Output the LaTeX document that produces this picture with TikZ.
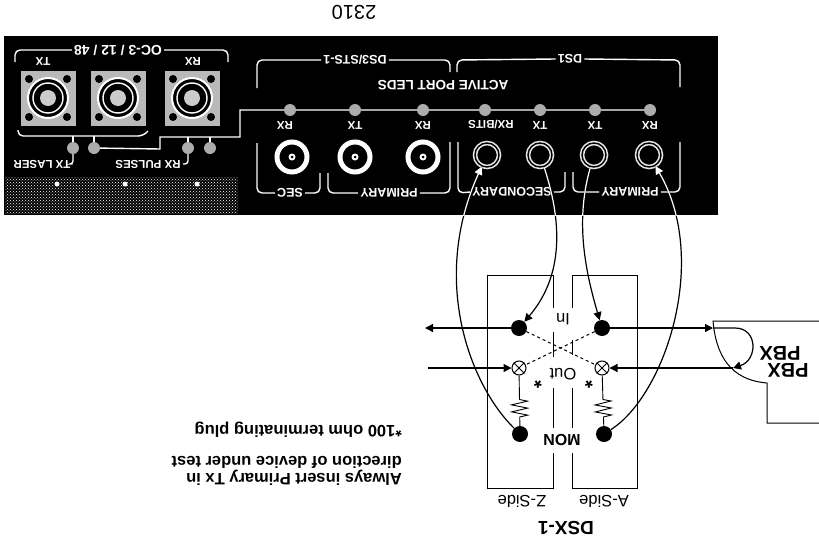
\documentclass[tikz,border=0pt]{standalone}
\usepackage{fontspec}
\setmainfont{Liberation Sans}
\usetikzlibrary{arrows.meta,calc,patterns,decorations.pathmorphing}
\tikzset{
  panelline/.style={draw=white,line width=1.4pt},
  panelbold/.style={rotate=180,text=white,font=\fontsize{12.5}{13}\selectfont\bfseries,inner sep=2pt},
  paneltext/.style={rotate=180,text=white,font=\fontsize{11.5}{12}\selectfont\bfseries,inner sep=1pt},
  ledlamp/.style={circle,minimum size=12pt,inner sep=0pt,fill=gray!65},
  bncport/.style={circle,draw=white,line width=5pt,fill=black,minimum size=30pt,inner sep=0pt},
  jackport/.style={circle,double=black,draw=white!90!black,double distance=1.4pt,line width=1.6pt,fill=black,minimum size=24pt,inner sep=0pt},
  opticport/.style={minimum size=55pt,inner sep=0pt,fill=gray!55},
  jackdot/.style={circle,fill=black,minimum size=16pt,inner sep=0pt},
  lampnode/.style={circle,draw,line width=1pt,fill=white,minimum size=14pt,inner sep=0pt},
  labeltext/.style={rotate=180,font=\fontsize{16.5}{17}\selectfont,inner sep=0pt},
  sidetext/.style={rotate=180,font=\fontsize{16.5}{17}\selectfont\bfseries,anchor=base west,inner sep=0pt},
  zigzagline/.style={line width=0.9pt,decorate,decoration={zigzag,segment length=7pt,amplitude=8pt,pre length=24pt,post length=8pt}},
  wire/.style={line width=1.2pt},
  tip/.style={-{Triangle[length=8pt,width=8pt]}}
}
\newcommand{\testcords}[1]{%
  \draw[wire,tip,#1] (zmon) .. controls (470,385) and (430,280) .. (j1);
  \draw[wire,tip,#1] (j2) .. controls (565,230) and (560,280) .. (zin);
  \draw[wire,tip,#1] (j3) .. controls (575,220) and (585,270) .. (ain);
  \draw[wire,tip,#1] (amon) .. controls (665,395) and (710,260) .. (j4);
}
\begin{document}
\begin{tikzpicture}[x=1pt,y=-1pt]
  \useasboundingbox (0,0) rectangle (819,541);
  % rear panel
  \fill[black] (4,36) rectangle (718,215);
  \fill[pattern=crosshatch dots,pattern color=white] (5,177) rectangle (238,213);
  \fill[white] (57,184) circle (2.5) (125,184) circle (2.5) (197,184) circle (2.5);
  \node[font=\fontsize{20}{20}\selectfont,rotate=180,inner sep=0pt] (unit) at (354,12) {2310};
  % optical ports
  \node[opticport] (otx) at (48,98) {};
  \node[opticport] (omid) at (118,98) {};
  \node[opticport] (orx) at (192,98) {};
  \draw[white,line width=2pt,fill=black] (48,98) circle (20) (118,98) circle (20) (192,98) circle (20);
  \draw[white,line width=1.4pt] (48,98) circle (15) (118,98) circle (15) (192,98) circle (15);
  \fill[white!80!black] (48,98) circle (8) (118,98) circle (8) (192,98) circle (8);
  \fill[black] (29,79) circle (4) (67,79) circle (4) (29,117) circle (4) (67,117) circle (4);
  \fill[black] (99,79) circle (4) (137,79) circle (4) (99,117) circle (4) (137,117) circle (4);
  \fill[black] (173,79) circle (4) (211,79) circle (4) (173,117) circle (4) (211,117) circle (4);
  \node[panelbold,font=\fontsize{14}{14}\selectfont\bfseries] (ocl) at (118,50) {OC-3 / 12 / 48};
  \node[paneltext] (otxl) at (43,61) {TX};
  \node[paneltext] (orxl) at (193,61) {RX};
  \draw[panelline,rounded corners=5pt] (15,62) -- (15,50) -- (ocl.east);
  \draw[panelline,rounded corners=5pt] (ocl.west) -- (228,50) -- (228,62);
  \draw[panelline,rounded corners=5pt] (18,130) -- (18,136) -- (143,136) -- (148,131);
  % LEDs by the optical ports
  \node[ledlamp] (txled) at (73,148) {};
  \node[ledlamp] (oled) at (94,148) {};
  \node[ledlamp] (pled) at (188,148) {};
  \node[ledlamp] (qled) at (210,148) {};
  \draw[panelline] (txled) -- (73,136);
  \draw[panelline] (oled) -- (94,136);
  \draw[panelline] (pled) -- (188,137);
  \draw[panelline] (qled) -- (210,137);
  \node[panelbold,font=\fontsize{11.5}{12}\selectfont\bfseries] (txlaser) at (42,164) {TX LASER};
  \node[panelbold,font=\fontsize{11.5}{12}\selectfont\bfseries] (rxpulses) at (148,164) {RX PULSES};
  \draw[panelline,rounded corners=3pt] (txled.south) -- (73,164) -- (txlaser.west);
  \draw[panelline,rounded corners=3pt] (pled.south) -- (188,164) -- (rxpulses.west);
  % LED strip
  \node[ledlamp] (l1) at (290,110) {};
  \node[ledlamp] (l2) at (355,110) {};
  \node[ledlamp] (l3) at (423,110) {};
  \node[ledlamp] (l4) at (485,110) {};
  \node[ledlamp] (l5) at (540,110) {};
  \node[ledlamp] (l6) at (595,110) {};
  \node[ledlamp] (l7) at (650,110) {};
  \draw[panelline] (oled) -- (160,149) -- (160,137) -- (240,137) -- (240,110) -- (l1) -- (l2) -- (l3) -- (l4) -- (l5) -- (l6) -- (l7);
  \node[paneltext] (t1) at (285,125) {RX};
  \node[paneltext] (t2) at (355,125) {TX};
  \node[paneltext] (t3) at (423,125) {RX};
  \node[paneltext] (t4) at (491,125) {RX/BITS};
  \node[paneltext] (t5) at (540,125) {TX};
  \node[paneltext] (t6) at (595,125) {TX};
  \node[paneltext] (t7) at (650,125) {RX};
  % connectors
  \node[bncport] (b1) at (292,157) {};
  \node[bncport] (b2) at (355,157) {};
  \node[bncport] (b3) at (423,157) {};
  \fill[white] (292,157) circle (3.5) (355,157) circle (3.5) (423,157) circle (3.5);
  \fill[black] (292,157) circle (1.5) (355,157) circle (1.5) (423,157) circle (1.5);
  \node[jackport] (j1) at (487,155) {};
  \node[jackport] (j2) at (540,155) {};
  \node[jackport] (j3) at (594,155) {};
  \node[jackport] (j4) at (649,155) {};
  % brackets
  \node[panelbold] (secl) at (290,193) {SEC};
  \node[panelbold] (pril) at (389,193) {PRIMARY};
  \node[panelbold] (secy) at (512,192) {SECONDARY};
  \node[panelbold] (prir) at (630,192) {PRIMARY};
  \node[panelbold,font=\fontsize{13.5}{14}\selectfont\bfseries] (act) at (443,85) {ACTIVE PORT LEDS};
  \node[panelbold] (ds3) at (355,60) {DS3/STS-1};
  \node[panelbold] (ds1) at (570,59) {DS1};
  \draw[panelline,rounded corners=5pt] (257,143) -- (257,193) -- (secl.east);
  \draw[panelline,rounded corners=5pt] (secl.west) -- (320,193) -- (320,173);
  \draw[panelline,rounded corners=5pt] (328,173) -- (328,193) -- (pril.east);
  \draw[panelline,rounded corners=5pt] (pril.west) -- (450,193) -- (450,142);
  \draw[panelline,rounded corners=5pt] (458,142) -- (458,193) -- (secy.east);
  \draw[panelline,rounded corners=5pt] (secy.west) -- (565,192) -- (565,172);
  \draw[panelline,rounded corners=5pt] (573,172) -- (573,192) -- (prir.east);
  \draw[panelline,rounded corners=5pt] (prir.west) -- (680,192) -- (680,142);
  \draw[panelline,rounded corners=5pt] (257,88) -- (257,60) -- (ds3.east);
  \draw[panelline,rounded corners=5pt] (ds3.west) -- (450,60) -- (450,72);
  \draw[panelline,rounded corners=5pt] (457,72) -- (457,60) -- (ds1.east);
  \draw[panelline,rounded corners=5pt] (ds1.west) -- (680,60) -- (680,87);
  % DSX-1 panel
  \draw[line width=1pt] (553,308) -- (553,275) -- (487,275) -- (487,488) -- (553,488) -- (553,453);
  \draw[line width=1pt] (553,332) -- (553,357) (553,388) -- (553,428);
  \draw[line width=1pt] (572,308) -- (572,275) -- (637,275) -- (637,488) -- (572,488) -- (572,453);
  \draw[line width=1pt] (572,340) -- (572,355) (572,388) -- (572,428);
  \node[jackdot] (zin) at (519,328) {};
  \node[jackdot] (ain) at (602,328) {};
  \node[jackdot] (zmon) at (520,434) {};
  \node[jackdot] (amon) at (604,434) {};
  \node[lampnode] (zout) at (519,368) {};
  \node[lampnode] (aout) at (602,368) {};
  \draw[line width=1pt] (zout.north west) -- (zout.south east) (zout.north east) -- (zout.south west);
  \draw[line width=1pt] (aout.north west) -- (aout.south east) (aout.north east) -- (aout.south west);
  \draw[dashed,line width=1pt] (zin) -- (aout);
  \draw[dashed,line width=1pt] (ain) -- (zout);
  \draw[zigzagline] (zout) -- (zmon);
  \draw[zigzagline] (aout) -- (amon);
  \node[labeltext] (inl) at (563,319) {In};
  \node[labeltext] (outl) at (563,374) {Out};
  \node[labeltext,font=\fontsize{16}{16}\selectfont\bfseries] (monl) at (562,440) {MON};
  \node[labeltext,font=\fontsize{20}{20}\selectfont\bfseries] (s1) at (538,381) {*};
  \node[labeltext,font=\fontsize{20}{20}\selectfont\bfseries] (s2) at (589,381) {*};
  \node[labeltext] (zside) at (522,501) {Z-Side};
  \node[labeltext] (aside) at (604,501) {A-Side};
  \node[labeltext,font=\fontsize{19}{19}\selectfont\bfseries] (dsx) at (566,528) {DSX-1};
  % signal flow
  \coordinate (leftin) at (425,328);
  \coordinate (leftout) at (428,368);
  \coordinate (pbxin) at (713,328);
  \coordinate (pbxout) at (733,368);
  \draw[wire,tip] (zin) -- (leftin);
  \draw[wire,tip] (leftout) -- (zout);
  \draw[wire,tip] (ain) -- (pbxin);
  \draw[wire,tip] (pbxout) -- (aout);
  \draw[wire,tip] (pbxin) -- (735,328) .. controls (758,328) and (758,360) .. (pbxout);
  % PBX
  \draw[line width=1pt] (819,321) -- (713,321) .. controls (716,355) and (730,380) .. (767,383) -- (767,423) -- (819,423);
  \node[rotate=180,font=\fontsize{20}{20}\selectfont\bfseries,inner sep=0pt] (pbx1) at (780,353) {PBX};
  \node[rotate=180,font=\fontsize{20}{20}\selectfont\bfseries,inner sep=0pt] (pbx2) at (788,370) {PBX};
  % test cords, white where they cross the panel
  \testcords{black}
  \begin{scope}
    \clip (4,36) rectangle (718,215);
    \testcords{white}
  \end{scope}
  % note
  \node[sidetext] (note1) at (402,473) {Always insert Primary Tx in};
  \node[sidetext] (note2) at (402,456) {direction of device under test};
  \node[sidetext] (note3) at (402,425) {*100 ohm terminating plug};
\end{tikzpicture}
\end{document}
